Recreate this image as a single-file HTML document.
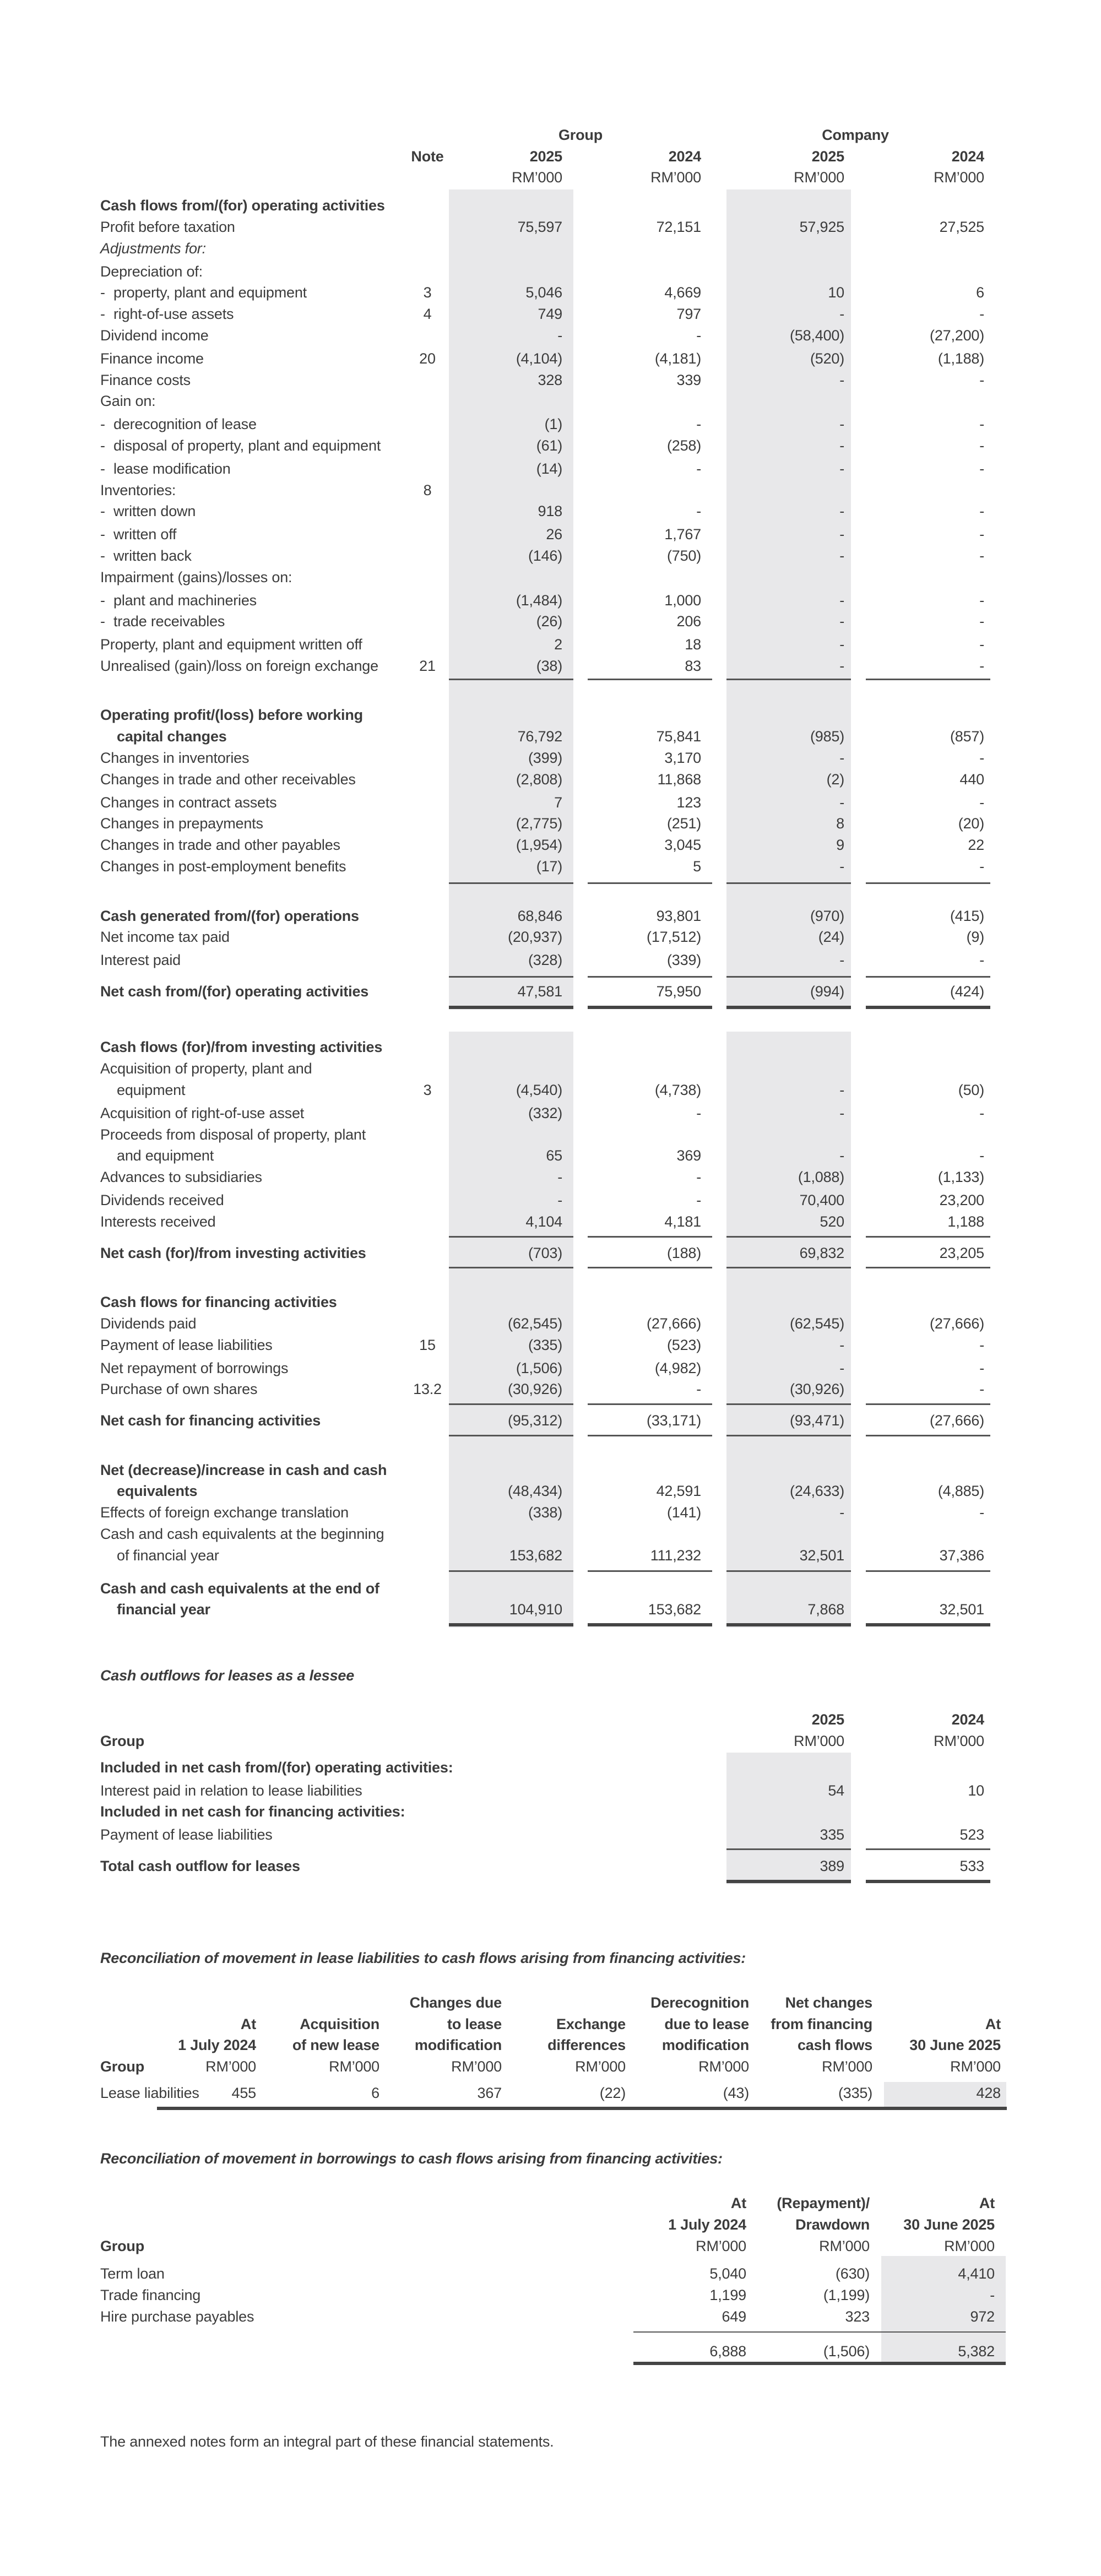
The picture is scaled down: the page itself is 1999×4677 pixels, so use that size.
<!DOCTYPE html>
<html><head><meta charset="utf-8"><style>
*{margin:0;padding:0;box-sizing:border-box}
body{width:1999px;height:4677px;background:#fff;position:relative;font-family:"Liberation Sans",sans-serif;color:#3c3c3c;overflow:hidden}
.r{position:absolute;left:0;width:1999px;height:34px;line-height:34px;font-size:27px;letter-spacing:-0.2px}
.r span{position:absolute;top:0;white-space:nowrap}
.l{left:182px}.i{left:212px}.s{left:206px}
.nt{left:740px;width:72px;text-align:center}
.a,.b,.c,.d{text-align:right}
.a{left:815px;width:206px}.b{left:1067px;width:206px}.c{left:1319px;width:214px}.d{left:1572px;width:215px}
.bd{font-weight:bold}.it{font-style:italic}.bi{font-weight:bold;font-style:italic}
.sh{position:absolute;background:#e8e8ea}
.ln{position:absolute;height:3px;background:#555}
.dl{position:absolute;height:6px;background:#444}
</style></head><body>
<div class="sh" style="left:815px;top:344px;width:226px;height:1489px"></div>
<div class="sh" style="left:1319px;top:344px;width:226px;height:1489px"></div>
<div class="sh" style="left:815px;top:1873px;width:226px;height:1082px"></div>
<div class="sh" style="left:1319px;top:1873px;width:226px;height:1082px"></div>
<div class="sh" style="left:1319px;top:3182px;width:226px;height:239px"></div>
<div class="sh" style="left:1605px;top:3780px;width:222px;height:50px"></div>
<div class="sh" style="left:1600px;top:4096px;width:226px;height:198px"></div>

<div class="r bd" style="top:228px"><span style="left:815px;width:478px;text-align:center">Group</span><span style="left:1319px;width:468px;text-align:center">Company</span></div>
<div class="r bd" style="top:267px"><span class="nt">Note</span><span class="a">2025</span><span class="b">2024</span><span class="c">2025</span><span class="d">2024</span></div>
<div class="r" style="top:305px"><span class="a">RM’000</span><span class="b">RM’000</span><span class="c">RM’000</span><span class="d">RM’000</span></div>

<div class="r bd" style="top:356px"><span class="l">Cash flows from/(for) operating activities</span></div>
<div class="r" style="top:395px"><span class="l">Profit before taxation</span><span class="a">75,597</span><span class="b">72,151</span><span class="c">57,925</span><span class="d">27,525</span></div>
<div class="r it" style="top:434px"><span class="l">Adjustments for:</span></div>
<div class="r" style="top:476px"><span class="l">Depreciation of:</span></div>
<div class="r" style="top:514px"><span class="l">-</span><span class="s">property, plant and equipment</span><span class="nt">3</span><span class="a">5,046</span><span class="b">4,669</span><span class="c">10</span><span class="d">6</span></div>
<div class="r" style="top:553px"><span class="l">-</span><span class="s">right-of-use assets</span><span class="nt">4</span><span class="a">749</span><span class="b">797</span><span class="c">-</span><span class="d">-</span></div>
<div class="r" style="top:592px"><span class="l">Dividend income</span><span class="a">-</span><span class="b">-</span><span class="c">(58,400)</span><span class="d">(27,200)</span></div>
<div class="r" style="top:634px"><span class="l">Finance income</span><span class="nt">20</span><span class="a">(4,104)</span><span class="b">(4,181)</span><span class="c">(520)</span><span class="d">(1,188)</span></div>
<div class="r" style="top:673px"><span class="l">Finance costs</span><span class="a">328</span><span class="b">339</span><span class="c">-</span><span class="d">-</span></div>
<div class="r" style="top:711px"><span class="l">Gain on:</span></div>
<div class="r" style="top:753px"><span class="l">-</span><span class="s">derecognition of lease</span><span class="a">(1)</span><span class="b">-</span><span class="c">-</span><span class="d">-</span></div>
<div class="r" style="top:792px"><span class="l">-</span><span class="s">disposal of property, plant and equipment</span><span class="a">(61)</span><span class="b">(258)</span><span class="c">-</span><span class="d">-</span></div>
<div class="r" style="top:834px"><span class="l">-</span><span class="s">lease modification</span><span class="a">(14)</span><span class="b">-</span><span class="c">-</span><span class="d">-</span></div>
<div class="r" style="top:873px"><span class="l">Inventories:</span><span class="nt">8</span></div>
<div class="r" style="top:911px"><span class="l">-</span><span class="s">written down</span><span class="a">918</span><span class="b">-</span><span class="c">-</span><span class="d">-</span></div>
<div class="r" style="top:953px"><span class="l">-</span><span class="s">written off</span><span class="a">26</span><span class="b">1,767</span><span class="c">-</span><span class="d">-</span></div>
<div class="r" style="top:992px"><span class="l">-</span><span class="s">written back</span><span class="a">(146)</span><span class="b">(750)</span><span class="c">-</span><span class="d">-</span></div>
<div class="r" style="top:1031px"><span class="l">Impairment (gains)/losses on:</span></div>
<div class="r" style="top:1073px"><span class="l">-</span><span class="s">plant and machineries</span><span class="a">(1,484)</span><span class="b">1,000</span><span class="c">-</span><span class="d">-</span></div>
<div class="r" style="top:1111px"><span class="l">-</span><span class="s">trade receivables</span><span class="a">(26)</span><span class="b">206</span><span class="c">-</span><span class="d">-</span></div>
<div class="r" style="top:1153px"><span class="l">Property, plant and equipment written off</span><span class="a">2</span><span class="b">18</span><span class="c">-</span><span class="d">-</span></div>
<div class="r" style="top:1192px"><span class="l">Unrealised (gain)/loss on foreign exchange</span><span class="nt">21</span><span class="a">(38)</span><span class="b">83</span><span class="c">-</span><span class="d">-</span></div>
<div class="ln" style="left:815px;top:1232px;width:226px"></div><div class="ln" style="left:1067px;top:1232px;width:226px"></div><div class="ln" style="left:1319px;top:1232px;width:226px"></div><div class="ln" style="left:1572px;top:1232px;width:226px"></div>

<div class="r bd" style="top:1281px"><span class="l">Operating profit/(loss) before working</span></div>
<div class="r" style="top:1320px"><span class="i bd">capital changes</span><span class="a">76,792</span><span class="b">75,841</span><span class="c">(985)</span><span class="d">(857)</span></div>
<div class="r" style="top:1359px"><span class="l">Changes in inventories</span><span class="a">(399)</span><span class="b">3,170</span><span class="c">-</span><span class="d">-</span></div>
<div class="r" style="top:1398px"><span class="l">Changes in trade and other receivables</span><span class="a">(2,808)</span><span class="b">11,868</span><span class="c">(2)</span><span class="d">440</span></div>
<div class="r" style="top:1440px"><span class="l">Changes in contract assets</span><span class="a">7</span><span class="b">123</span><span class="c">-</span><span class="d">-</span></div>
<div class="r" style="top:1478px"><span class="l">Changes in prepayments</span><span class="a">(2,775)</span><span class="b">(251)</span><span class="c">8</span><span class="d">(20)</span></div>
<div class="r" style="top:1517px"><span class="l">Changes in trade and other payables</span><span class="a">(1,954)</span><span class="b">3,045</span><span class="c">9</span><span class="d">22</span></div>
<div class="r" style="top:1556px"><span class="l">Changes in post-employment benefits</span><span class="a">(17)</span><span class="b">5</span><span class="c">-</span><span class="d">-</span></div>
<div class="ln" style="left:815px;top:1602px;width:226px"></div><div class="ln" style="left:1067px;top:1602px;width:226px"></div><div class="ln" style="left:1319px;top:1602px;width:226px"></div><div class="ln" style="left:1572px;top:1602px;width:226px"></div>

<div class="r" style="top:1646px"><span class="l bd">Cash generated from/(for) operations</span><span class="a">68,846</span><span class="b">93,801</span><span class="c">(970)</span><span class="d">(415)</span></div>
<div class="r" style="top:1684px"><span class="l">Net income tax paid</span><span class="a">(20,937)</span><span class="b">(17,512)</span><span class="c">(24)</span><span class="d">(9)</span></div>
<div class="r" style="top:1726px"><span class="l">Interest paid</span><span class="a">(328)</span><span class="b">(339)</span><span class="c">-</span><span class="d">-</span></div>
<div class="ln" style="left:815px;top:1772px;width:226px"></div><div class="ln" style="left:1067px;top:1772px;width:226px"></div><div class="ln" style="left:1319px;top:1772px;width:226px"></div><div class="ln" style="left:1572px;top:1772px;width:226px"></div>
<div class="r" style="top:1783px"><span class="l bd">Net cash from/(for) operating activities</span><span class="a">47,581</span><span class="b">75,950</span><span class="c">(994)</span><span class="d">(424)</span></div>
<div class="dl" style="left:815px;top:1826px;width:226px"></div><div class="dl" style="left:1067px;top:1826px;width:226px"></div><div class="dl" style="left:1319px;top:1826px;width:226px"></div><div class="dl" style="left:1572px;top:1826px;width:226px"></div>

<div class="r bd" style="top:1884px"><span class="l">Cash flows (for)/from investing activities</span></div>
<div class="r" style="top:1923px"><span class="l">Acquisition of property, plant and</span></div>
<div class="r" style="top:1962px"><span class="i">equipment</span><span class="nt">3</span><span class="a">(4,540)</span><span class="b">(4,738)</span><span class="c">-</span><span class="d">(50)</span></div>
<div class="r" style="top:2004px"><span class="l">Acquisition of right-of-use asset</span><span class="a">(332)</span><span class="b">-</span><span class="c">-</span><span class="d">-</span></div>
<div class="r" style="top:2043px"><span class="l">Proceeds from disposal of property, plant</span></div>
<div class="r" style="top:2081px"><span class="i">and equipment</span><span class="a">65</span><span class="b">369</span><span class="c">-</span><span class="d">-</span></div>
<div class="r" style="top:2120px"><span class="l">Advances to subsidiaries</span><span class="a">-</span><span class="b">-</span><span class="c">(1,088)</span><span class="d">(1,133)</span></div>
<div class="r" style="top:2162px"><span class="l">Dividends received</span><span class="a">-</span><span class="b">-</span><span class="c">70,400</span><span class="d">23,200</span></div>
<div class="r" style="top:2201px"><span class="l">Interests received</span><span class="a">4,104</span><span class="b">4,181</span><span class="c">520</span><span class="d">1,188</span></div>
<div class="ln" style="left:815px;top:2244px;width:226px"></div><div class="ln" style="left:1067px;top:2244px;width:226px"></div><div class="ln" style="left:1319px;top:2244px;width:226px"></div><div class="ln" style="left:1572px;top:2244px;width:226px"></div>
<div class="r" style="top:2258px"><span class="l bd">Net cash (for)/from investing activities</span><span class="a">(703)</span><span class="b">(188)</span><span class="c">69,832</span><span class="d">23,205</span></div>
<div class="ln" style="left:815px;top:2300px;width:226px"></div><div class="ln" style="left:1067px;top:2300px;width:226px"></div><div class="ln" style="left:1319px;top:2300px;width:226px"></div><div class="ln" style="left:1572px;top:2300px;width:226px"></div>

<div class="r bd" style="top:2347px"><span class="l">Cash flows for financing activities</span></div>
<div class="r" style="top:2386px"><span class="l">Dividends paid</span><span class="a">(62,545)</span><span class="b">(27,666)</span><span class="c">(62,545)</span><span class="d">(27,666)</span></div>
<div class="r" style="top:2425px"><span class="l">Payment of lease liabilities</span><span class="nt">15</span><span class="a">(335)</span><span class="b">(523)</span><span class="c">-</span><span class="d">-</span></div>
<div class="r" style="top:2467px"><span class="l">Net repayment of borrowings</span><span class="a">(1,506)</span><span class="b">(4,982)</span><span class="c">-</span><span class="d">-</span></div>
<div class="r" style="top:2505px"><span class="l">Purchase of own shares</span><span class="nt">13.2</span><span class="a">(30,926)</span><span class="b">-</span><span class="c">(30,926)</span><span class="d">-</span></div>
<div class="ln" style="left:815px;top:2548px;width:226px"></div><div class="ln" style="left:1067px;top:2548px;width:226px"></div><div class="ln" style="left:1319px;top:2548px;width:226px"></div><div class="ln" style="left:1572px;top:2548px;width:226px"></div>
<div class="r" style="top:2562px"><span class="l bd">Net cash for financing activities</span><span class="a">(95,312)</span><span class="b">(33,171)</span><span class="c">(93,471)</span><span class="d">(27,666)</span></div>
<div class="ln" style="left:815px;top:2605px;width:226px"></div><div class="ln" style="left:1067px;top:2605px;width:226px"></div><div class="ln" style="left:1319px;top:2605px;width:226px"></div><div class="ln" style="left:1572px;top:2605px;width:226px"></div>

<div class="r bd" style="top:2652px"><span class="l">Net (decrease)/increase in cash and cash</span></div>
<div class="r" style="top:2690px"><span class="i bd">equivalents</span><span class="a">(48,434)</span><span class="b">42,591</span><span class="c">(24,633)</span><span class="d">(4,885)</span></div>
<div class="r" style="top:2729px"><span class="l">Effects of foreign exchange translation</span><span class="a">(338)</span><span class="b">(141)</span><span class="c">-</span><span class="d">-</span></div>
<div class="r" style="top:2768px"><span class="l">Cash and cash equivalents at the beginning</span></div>
<div class="r" style="top:2807px"><span class="i">of financial year</span><span class="a">153,682</span><span class="b">111,232</span><span class="c">32,501</span><span class="d">37,386</span></div>
<div class="ln" style="left:815px;top:2851px;width:226px"></div><div class="ln" style="left:1067px;top:2851px;width:226px"></div><div class="ln" style="left:1319px;top:2851px;width:226px"></div><div class="ln" style="left:1572px;top:2851px;width:226px"></div>
<div class="r bd" style="top:2867px"><span class="l">Cash and cash equivalents at the end of</span></div>
<div class="r" style="top:2905px"><span class="i bd">financial year</span><span class="a">104,910</span><span class="b">153,682</span><span class="c">7,868</span><span class="d">32,501</span></div>
<div class="dl" style="left:815px;top:2947px;width:226px"></div><div class="dl" style="left:1067px;top:2947px;width:226px"></div><div class="dl" style="left:1319px;top:2947px;width:226px"></div><div class="dl" style="left:1572px;top:2947px;width:226px"></div>

<div class="r bi" style="top:3025px"><span class="l">Cash outflows for leases as a lessee</span></div>
<div class="r bd" style="top:3105px"><span class="c">2025</span><span class="d">2024</span></div>
<div class="r" style="top:3144px"><span class="l bd">Group</span><span class="c">RM’000</span><span class="d">RM’000</span></div>
<div class="r bd" style="top:3192px"><span class="l">Included in net cash from/(for) operating activities:</span></div>
<div class="r" style="top:3234px"><span class="l">Interest paid in relation to lease liabilities</span><span class="c">54</span><span class="d">10</span></div>
<div class="r bd" style="top:3272px"><span class="l">Included in net cash for financing activities:</span></div>
<div class="r" style="top:3314px"><span class="l">Payment of lease liabilities</span><span class="c">335</span><span class="d">523</span></div>
<div class="ln" style="left:1319px;top:3356px;width:226px"></div><div class="ln" style="left:1572px;top:3356px;width:226px"></div>
<div class="r" style="top:3371px"><span class="l bd">Total cash outflow for leases</span><span class="c">389</span><span class="d">533</span></div>
<div class="dl" style="left:1319px;top:3413px;width:226px"></div><div class="dl" style="left:1572px;top:3413px;width:226px"></div>

<div class="r bi" style="top:3538px"><span class="l">Reconciliation of movement in lease liabilities to cash flows arising from financing activities:</span></div>
<div class="r bd" style="top:3619px"><span style="left:700px;width:211px;text-align:right">Changes due</span><span style="left:1150px;width:210px;text-align:right">Derecognition</span><span style="left:1374px;width:210px;text-align:right">Net changes</span></div>
<div class="r bd" style="top:3658px"><span style="left:265px;width:200px;text-align:right">At</span><span style="left:489px;width:200px;text-align:right">Acquisition</span><span style="left:700px;width:211px;text-align:right">to lease</span><span style="left:930px;width:206px;text-align:right">Exchange</span><span style="left:1150px;width:210px;text-align:right">due to lease</span><span style="left:1374px;width:210px;text-align:right">from financing</span><span style="left:1600px;width:217px;text-align:right">At</span></div>
<div class="r bd" style="top:3696px"><span style="left:265px;width:200px;text-align:right">1 July 2024</span><span style="left:489px;width:200px;text-align:right">of new lease</span><span style="left:700px;width:211px;text-align:right">modification</span><span style="left:930px;width:206px;text-align:right">differences</span><span style="left:1150px;width:210px;text-align:right">modification</span><span style="left:1374px;width:210px;text-align:right">cash flows</span><span style="left:1600px;width:217px;text-align:right">30 June 2025</span></div>
<div class="r" style="top:3735px"><span class="l bd">Group</span><span style="left:265px;width:200px;text-align:right">RM’000</span><span style="left:489px;width:200px;text-align:right">RM’000</span><span style="left:700px;width:211px;text-align:right">RM’000</span><span style="left:930px;width:206px;text-align:right">RM’000</span><span style="left:1150px;width:210px;text-align:right">RM’000</span><span style="left:1374px;width:210px;text-align:right">RM’000</span><span style="left:1600px;width:217px;text-align:right">RM’000</span></div>
<div class="r" style="top:3783px"><span class="l">Lease liabilities</span><span style="left:265px;width:200px;text-align:right">455</span><span style="left:489px;width:200px;text-align:right">6</span><span style="left:700px;width:211px;text-align:right">367</span><span style="left:930px;width:206px;text-align:right">(22)</span><span style="left:1150px;width:210px;text-align:right">(43)</span><span style="left:1374px;width:210px;text-align:right">(335)</span><span style="left:1600px;width:217px;text-align:right">428</span></div>
<div class="dl" style="left:285px;top:3825px;width:1543px"></div>

<div class="r bi" style="top:3902px"><span class="l">Reconciliation of movement in borrowings to cash flows arising from financing activities:</span></div>
<div class="r bd" style="top:3983px"><span style="left:1150px;width:205px;text-align:right">At</span><span style="left:1379px;width:200px;text-align:right">(Repayment)/</span><span style="left:1600px;width:206px;text-align:right">At</span></div>
<div class="r bd" style="top:4022px"><span style="left:1150px;width:205px;text-align:right">1 July 2024</span><span style="left:1379px;width:200px;text-align:right">Drawdown</span><span style="left:1600px;width:206px;text-align:right">30 June 2025</span></div>
<div class="r" style="top:4061px"><span class="l bd">Group</span><span style="left:1150px;width:205px;text-align:right">RM’000</span><span style="left:1379px;width:200px;text-align:right">RM’000</span><span style="left:1600px;width:206px;text-align:right">RM’000</span></div>
<div class="r" style="top:4111px"><span class="l">Term loan</span><span style="left:1150px;width:205px;text-align:right">5,040</span><span style="left:1379px;width:200px;text-align:right">(630)</span><span style="left:1600px;width:206px;text-align:right">4,410</span></div>
<div class="r" style="top:4150px"><span class="l">Trade financing</span><span style="left:1150px;width:205px;text-align:right">1,199</span><span style="left:1379px;width:200px;text-align:right">(1,199)</span><span style="left:1600px;width:206px;text-align:right">-</span></div>
<div class="r" style="top:4189px"><span class="l">Hire purchase payables</span><span style="left:1150px;width:205px;text-align:right">649</span><span style="left:1379px;width:200px;text-align:right">323</span><span style="left:1600px;width:206px;text-align:right">972</span></div>
<div class="ln" style="left:1150px;top:4233px;width:676px;height:2px"></div>
<div class="r" style="top:4252px"><span style="left:1150px;width:205px;text-align:right">6,888</span><span style="left:1379px;width:200px;text-align:right">(1,506)</span><span style="left:1600px;width:206px;text-align:right">5,382</span></div>
<div class="dl" style="left:1150px;top:4288px;width:676px"></div>

<div class="r" style="top:4416px"><span class="l">The annexed notes form an integral part of these financial statements.</span></div>
</body></html>
